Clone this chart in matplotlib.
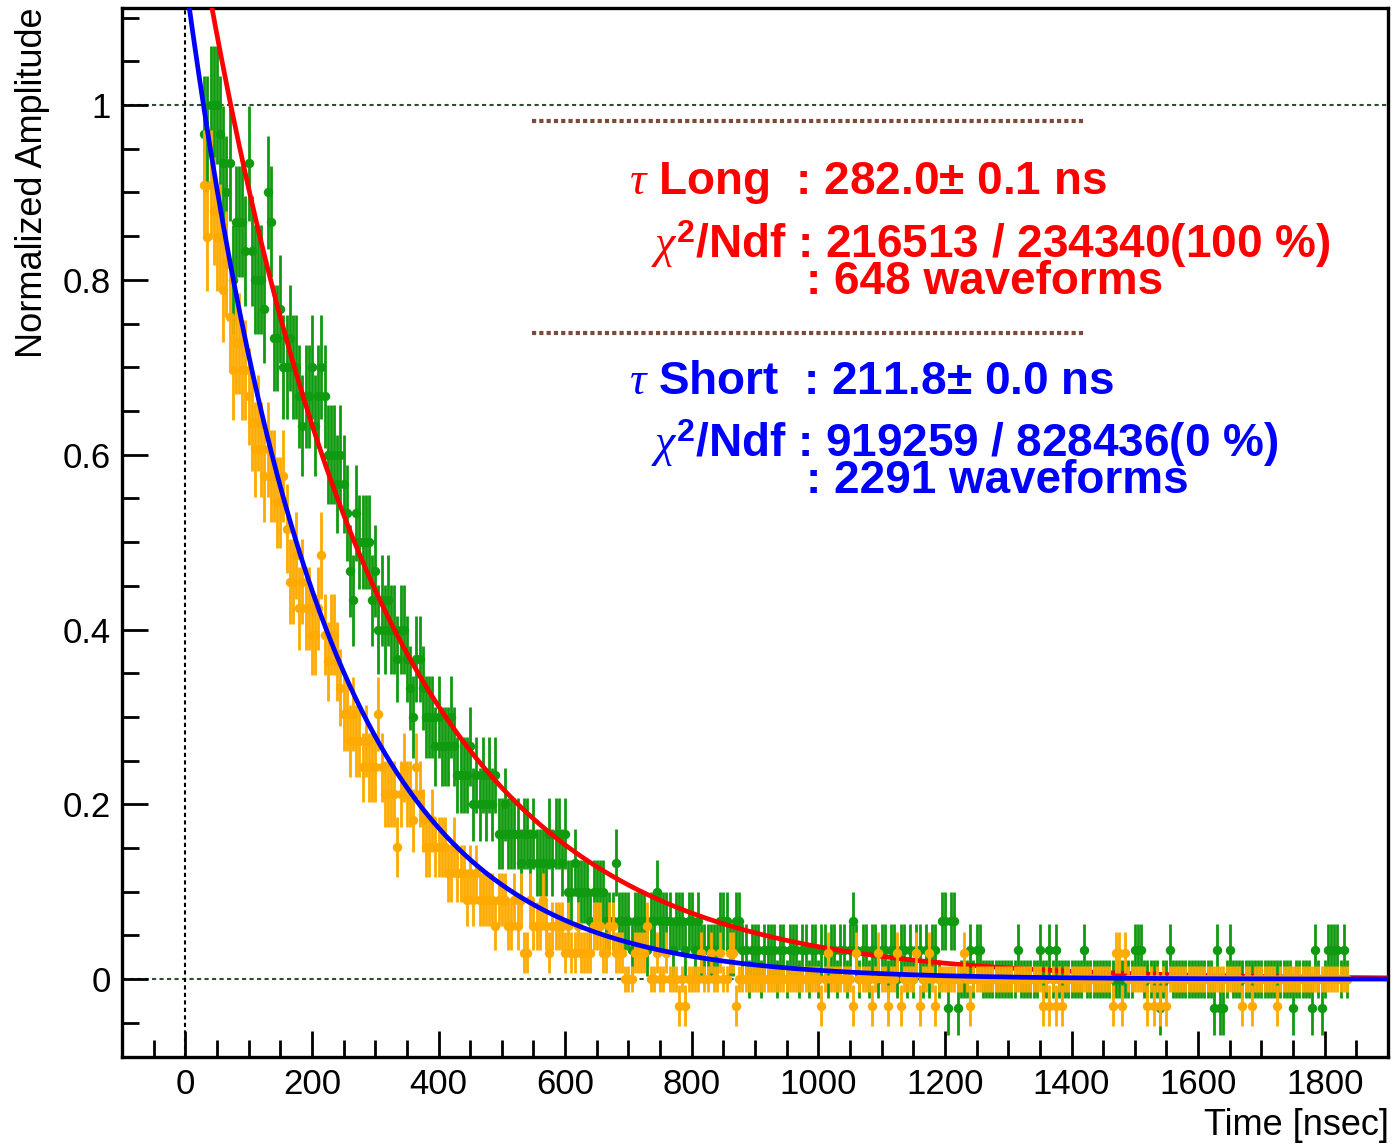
import numpy as np
import matplotlib
matplotlib.use("Agg")
import matplotlib.pyplot as plt
from matplotlib.ticker import MultipleLocator, FuncFormatter

# ---------------- data ----------------
# bin centres: first bin time and bin width in ns
t_first = 30
t_step = 5

# "Long" waveforms (green), amplitude in units of 1/30
green_scale = 30
green_counts = [
    29, 29, 30, 30, 30, 29, 28, 27, 28, 24,
    26, 26, 26, 25, 28, 25, 24, 24, 24, 23,
    27, 26, 22, 22, 23, 21, 21, 22, 21, 21,
    20, 19, 20, 20, 21, 19, 20, 21, 20, 18,
    18, 18, 17, 18, 17, 16, 14, 13, 16, 15,
    15, 15, 15, 13, 14, 12, 13, 12, 13, 12,
    12, 11, 12, 12, 11, 10, 9, 11, 11, 10,
    9, 9, 9, 8, 9, 8, 8, 8, 9, 8,
    7, 7, 7, 7, 8, 6, 7, 6, 7, 6,
    7, 6, 7, 5, 5, 6, 5, 5, 5, 5,
    4, 5, 5, 4, 5, 4, 4, 4, 4, 5,
    4, 5, 5, 4, 5, 3, 3, 4, 3, 3,
    3, 3, 2, 3, 3, 3, 3, 2, 2, 2,
    4, 2, 2, 2, 2, 1, 2, 2, 2, 2,
    1, 2, 2, 3, 2, 2, 2, 2, 1, 2,
    2, 2, 1, 2, 2, 1, 2, 1, 1, 1,
    1, 1, 1, 2, 2, 2, 1, 1, 2, 2,
    1, 1, 0, 1, 1, 1, 0, 1, 1, 1,
    1, 0, 1, 1, 0, 1, 1, 1, 0, 1,
    1, 0, 1, 1, 0, 1, 1, 0, 1, 1,
    0, 1, 1, 0, 1, 2, 1, 0, 1, 1,
    0, 1, 1, 0, 1, 1, 0, 1, 1, 0,
    1, 1, 0, 1, 0, 1, 1, 0, 1, 0,
    1, 1, 0, 2, 2, -1, 2, 2, -1, 0,
    0, 0, 1, 0, 1, 1, 0, 0, 0, 0,
    0, 0, 0, 0, 0, 0, 0, 1, 0, 0,
    0, 0, 0, 0, 1, 0, 0, 1, 0, 1,
    0, 0, 0, 0, 0, 0, 0, 0, 1, 0,
    0, 0, 0, 0, 0, 0, 0, 0, 0, 0,
    0, 0, 0, 0, 1, 1, 1, 0, 0, 0,
    0, 0, -1, 0, 0, 1, 0, 0, 0, 0,
    0, 0, 0, 0, 0, 0, 0, 0, 0, -1,
    1, -1, -1, 0, 1, 0, 0, 0, 0, 0,
    0, 0, 0, 0, 0, 0, 0, 0, 0, 0,
    0, 0, 0, 0, -1, 0, 0, 0, 0, 0,
    -1, 1, 0, -1, 0, 1, 1, 1, 1, 0,
    1, 0,
]

# "Short" waveforms (orange), amplitude in units of 1/33
orange_scale = 33
orange_counts = [
    30, 28, 30, 29, 28, 28, 26, 27, 25, 23,
    24, 24, 23, 23, 22, 21, 20, 21, 20, 19,
    20, 19, 19, 18, 18, 19, 17, 15, 15, 16,
    14, 15, 14, 14, 13, 13, 14, 16, 13, 12,
    13, 13, 12, 11, 10, 10, 9, 10, 9, 9,
    8, 9, 8, 8, 8, 10, 8, 7, 7, 7,
    7, 5, 7, 8, 7, 7, 6, 8, 7, 6,
    5, 5, 6, 5, 5, 5, 5, 4, 4, 5,
    4, 4, 4, 3, 4, 3, 4, 3, 3, 3,
    3, 3, 2, 3, 3, 3, 2, 2, 3, 2,
    3, 1, 1, 3, 2, 2, 2, 3, 2, 1,
    2, 2, 2, 2, 1, 2, 1, 1, 2, 1,
    1, 1, 1, 2, 2, 2, 1, 1, 2, 2,
    1, 1, 1, 0, 0, 0, 1, 1, 1, 1,
    2, 0, 0, 1, 0, 0, 1, 0, 0, 0,
    -1, 0, -1, 0, 0, 0, 0, 1, 0, 0,
    1, 0, 0, 1, 0, 0, 1, 1, -1, 0,
    0, 0, 0, 0, 0, 0, 0, 0, 0, 0,
    0, 0, 0, 0, 0, 0, 0, 0, 0, 0,
    0, 0, 0, 0, 0, -1, 0, 1, 0, 0,
    0, 0, 0, 0, 0, -1, 1, 0, 0, 0,
    0, -1, 0, 1, 0, 0, -1, 0, 0, 1,
    -1, 0, 0, 0, 0, 1, -1, 0, 0, 1,
    0, -1, 0, 0, 0, 0, 0, 0, 0, 0,
    1, 0, -1, 0, 0, 0, 0, 0, 0, 0,
    0, 0, 0, 0, 0, 0, 0, 0, 0, 0,
    0, 0, 0, 0, 0, -1, 0, -1, 0, -1,
    0, -1, 0, 0, 0, 0, 0, 0, 0, 0,
    0, 0, 0, 0, 0, 0, 0, -1, 1, 1,
    -1, 1, 0, 0, 0, 0, 0, 0, -1, 0,
    -1, 0, -1, 0, -1, 0, 0, 0, 0, 0,
    0, 0, 0, 0, 0, 0, 0, 0, 0, 0,
    0, 0, 0, 0, 0, 0, 0, 0, -1, 0,
    0, -1, 0, 0, 0, 0, 0, 0, 0, -1,
    0, 0, 0, 0, 0, 0, 0, 0, 0, 0,
    0, 0, 0, 0, 0, 0, 0, 0, 0, 0,
    0, 0,
]

# error-bar size model (base + slope*sqrt|amplitude|)
green_err_base, green_err_slope = 0.022, 0.045
orange_err_base, orange_err_slope = 0.015, 0.050

# fit results
tau_long, amp_long = 282.0, 1.29
tau_short, amp_short = 211.8, 1.145
fit_t_max = 1900

text_long = [r"$\tau$ Long  : 282.0± 0.1 ns",
             r"$\chi^{\mathbf{2}}$/Ndf : 216513 / 234340(100 %)",
             ": 648 waveforms"]
text_short = [r"$\tau$ Short  : 211.8± 0.0 ns",
              r"$\chi^{\mathbf{2}}$/Ndf : 919259 / 828436(0 %)",
              ": 2291 waveforms"]

# ---------------- style ----------------
plt.rcParams['font.family'] = ['Liberation Sans', 'DejaVu Sans']
plt.rcParams['mathtext.fontset'] = 'custom'
plt.rcParams['mathtext.rm'] = 'Liberation Sans'
plt.rcParams['mathtext.it'] = 'Liberation Serif:italic'
plt.rcParams['mathtext.bf'] = 'Liberation Sans:bold'

W, H = 1395, 1144
fig = plt.figure(figsize=(W / 100, H / 100), dpi=100)
L, R, T, B = 122, 1388, 8, 1057
ax = fig.add_axes([L / W, 1 - B / H, (R - L) / W, (B - T) / H])
ax.set_xlim(-100, 1900)
ax.set_ylim(-0.089, 1.111)

green_y = np.array(green_counts) / green_scale
orange_y = np.array(orange_counts) / orange_scale
tg = t_first + t_step * np.arange(len(green_y))
to = t_first + t_step * np.arange(len(orange_y))
green_err = green_err_base + green_err_slope * np.sqrt(np.abs(green_y))
orange_err = orange_err_base + orange_err_slope * np.sqrt(np.abs(orange_y))

# reference lines
dot_col = '#2e4f2e'
ax.axhline(1.0, color=dot_col, lw=1.5, ls=(0, (2.0, 1.6)), zorder=1)
ax.axhline(0.0, color=dot_col, lw=1.5, ls=(0, (2.0, 1.6)), zorder=1)
ax.axvline(0.0, color='black', lw=1.5, ls=(0, (2.0, 1.6)), zorder=1)

green_col = '#109a10'
orange_col = '#ffaa00'

ax.errorbar(tg, green_y, yerr=green_err, fmt='o', color=green_col, ms=6.8,
            mew=0, elinewidth=2.0, capsize=0, zorder=2)
tt = np.linspace(0, fit_t_max, 800)
ax.plot(tt, amp_long * np.exp(-tt / tau_long), color='#ff0000', lw=3.4, zorder=3)
ax.errorbar(to, orange_y, yerr=orange_err, fmt='o', color=orange_col, ms=6.8,
            mew=0, elinewidth=2.0, capsize=0, zorder=4)
ax.plot(tt, amp_short * np.exp(-tt / tau_short), color='#0000ff', lw=3.4, zorder=5)

# separators
sep_col = '#7b4a3c'
for ysep in (0.9817, 0.739):
    ax.plot([547, 1423], [ysep, ysep], color=sep_col, lw=3.0,
            ls=(0, (1.0, 0.75)), solid_capstyle='butt', zorder=6)

# fit text
fs = 33
for txt, yy, xx in zip(text_long, (0.911, 0.840, 0.797), (701, 736, 981)):
    ax.text(xx, yy, txt, color='#ff0000', fontsize=fs, fontweight='bold',
            ha='left', va='center', zorder=7)
for txt, yy, xx in zip(text_short, (0.683, 0.613, 0.570), (701, 736, 981)):
    ax.text(xx, yy, txt, color='#0000ff', fontsize=fs, fontweight='bold',
            ha='left', va='center', zorder=7)

# axes / ticks
for s in ax.spines.values():
    s.set_linewidth(2.4)
ax.xaxis.set_major_locator(MultipleLocator(200))
ax.xaxis.set_minor_locator(MultipleLocator(50))
ax.yaxis.set_major_locator(MultipleLocator(0.2))
ax.yaxis.set_minor_locator(MultipleLocator(0.05))
ax.xaxis.set_major_formatter(FuncFormatter(lambda v, p: f"{v:g}"))
ax.yaxis.set_major_formatter(FuncFormatter(lambda v, p: f"{round(v, 2):g}"))
ax.tick_params(which='both', direction='in', top=False, right=False, width=2)
ax.tick_params(which='major', length=19, labelsize=25, pad=8)
ax.tick_params(which='minor', length=12)

ax.set_xlabel('Time [nsec]', fontsize=26, ha='right', va='top')
ax.xaxis.set_label_coords(1.001, -0.049)
ax.set_ylabel('Normalized Amplitude', fontsize=26, ha='right', va='center')
ax.yaxis.set_label_coords(-0.071, 1.0)

fig.savefig('out.png', dpi=100)
